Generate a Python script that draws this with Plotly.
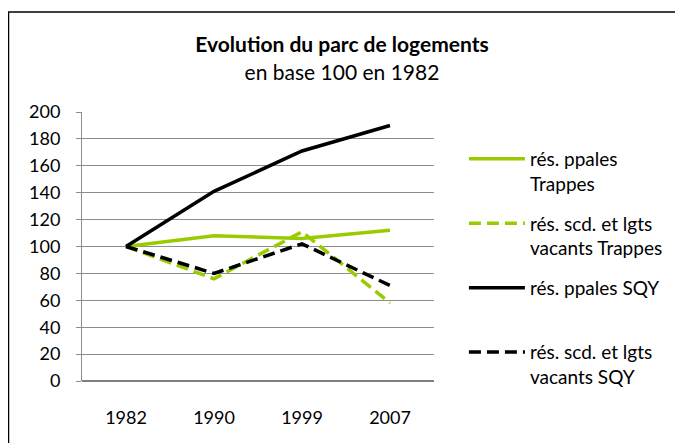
import plotly.graph_objects as go

# Valeurs (base 100 en 1982)
annees = ["1982", "1990", "1999", "2007"]
ppales_trappes = [100, 108, 106, 112]
scd_vacants_trappes = [100, 76, 111, 58]
ppales_sqy = [100, 141, 171, 190]
scd_vacants_sqy = [100, 80, 102, 71]

y_ticks = [0, 20, 40, 60, 80, 100, 120, 140, 160, 180, 200]

VERT = "#99CC00"
NOIR = "#000000"
FONT = "Lato, 'Open Sans', sans-serif"
DASH = "12px,6px"

series = [
    ("rés. ppales<br>Trappes", ppales_trappes, VERT, "solid"),
    ("rés. scd. et lgts<br>vacants Trappes", scd_vacants_trappes, VERT, DASH),
    ("rés. ppales SQY<br>&nbsp;", ppales_sqy, NOIR, "solid"),
    ("rés. scd. et lgts<br>vacants SQY", scd_vacants_sqy, NOIR, DASH),
]

fig = go.Figure()
for idx, (name, values, color, dash) in enumerate(series):
    fig.add_trace(
        go.Scatter(
            x=annees,
            y=values,
            mode="lines",
            name=name,
            legendgroup=f"g{idx}",
            line={"color": color, "width": 3.5, "dash": dash},
        )
    )

# la page est decalee de 8px (marge du body), d'ou les marges ajustees
PLOT_W = 352
PLOT_H = 269

fig.update_layout(
    width=683,
    height=443,
    margin={"l": 74, "r": 257, "t": 104, "b": 70},
    paper_bgcolor="white",
    plot_bgcolor="white",
    font={"family": FONT, "size": 18, "color": "#000000"},
    title={
        "text": "<b>Evolution du parc de logements</b><br>en base 100 en 1982",
        "x": 334 / 683,
        "xanchor": "center",
        "y": 0.9,
        "yanchor": "top",
        "font": {"family": FONT, "size": 21, "color": "#000000"},
    },
    showlegend=True,
    legend={
        "x": 1.085,
        "xanchor": "left",
        "y": 0.896,
        "yanchor": "top",
        "itemwidth": 56,
        "valign": "top",
        "tracegroupgap": 12,
        "font": {"family": FONT, "size": 19},
        "bgcolor": "rgba(0,0,0,0)",
    },
    shapes=[
        {
            "type": "rect",
            "xref": "paper",
            "yref": "paper",
            "x0": (0.5 - 74) / PLOT_W,
            "x1": (700 - 74) / PLOT_W,
            "y0": (373 - 460) / PLOT_H,
            "y1": (373 - 4) / PLOT_H,
            "line": {"color": "#000000", "width": 1.5},
            "layer": "below",
        }
    ],
)

fig.update_xaxes(
    type="category",
    range=[-0.5, 3.5],
    showgrid=False,
    showline=False,
    ticks="outside",
    ticklen=20,
    tickcolor="rgba(0,0,0,0)",
    tickfont={"family": FONT, "size": 18},
    zeroline=False,
)
fig.update_yaxes(
    range=[0, 200],
    tickvals=y_ticks,
    showgrid=True,
    gridcolor="#8c8c8c",
    gridwidth=1,
    showline=True,
    linecolor="#8c8c8c",
    linewidth=1,
    ticks="outside",
    ticklen=5,
    tickcolor="#8c8c8c",
    ticklabelstandoff=12,
    tickfont={"family": FONT, "size": 18},
    zeroline=True,
    zerolinecolor="#7f7f7f",
    zerolinewidth=2,
)

fig.write_html("out.html")
